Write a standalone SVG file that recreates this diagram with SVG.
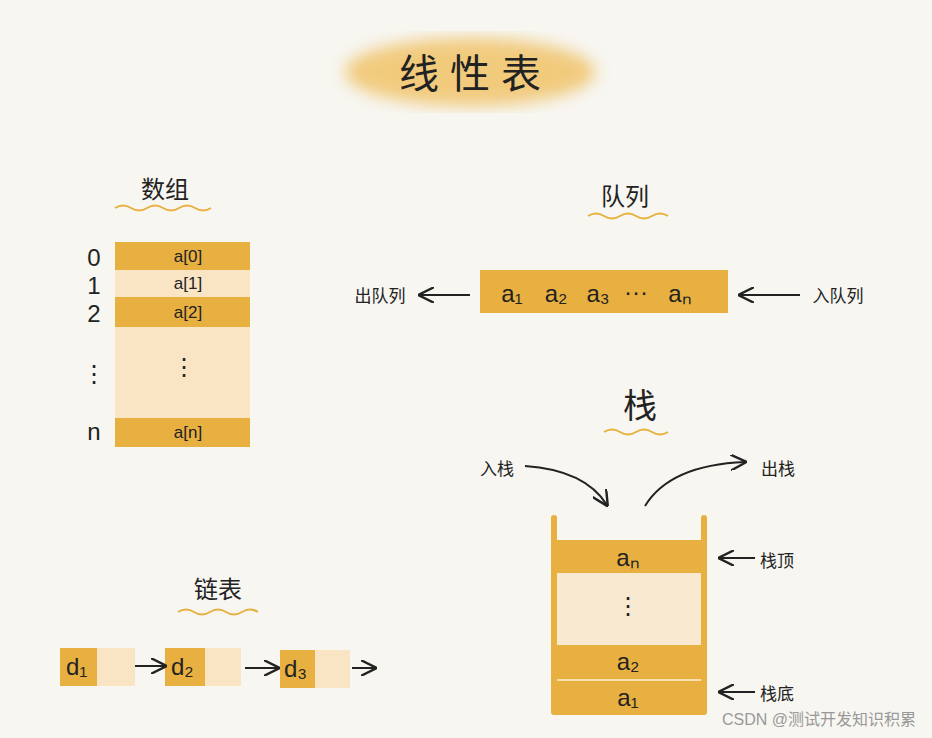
<svg xmlns="http://www.w3.org/2000/svg" width="932" height="738" viewBox="0 0 932 738">
<defs>
<style>
.t{font-family:"Liberation Sans","Noto Sans CJK SC",sans-serif;fill:#222}
.h{font-size:40px}
.s{font-size:24px}
.c{font-size:17px}
.o{fill:#e8b040}
.l{fill:#f9e5c4}
.ln{stroke:#222;stroke-width:2;fill:none}
.w{stroke:#e8b040;stroke-width:2;fill:none}
</style>
<marker id="a" viewBox="0 0 10 10" refX="9" refY="5" markerWidth="8" markerHeight="8" orient="auto"><path d="M0,0L10,5L0,10" fill="none" stroke="#222" stroke-width="1.5"/></marker>
<filter id="b"><feGaussianBlur stdDeviation="8"/></filter>
</defs>
<rect width="932" height="738" fill="#f7f6f1"/>
<g id="title"><ellipse cx="470" cy="72" rx="125" ry="34" fill="#f0c060" opacity="0.8" filter="url(#b)"/><text class="t h" x="470" y="88" text-anchor="middle">线 性 表</text></g>
<g id="array">
<text class="t s" x="165" y="198" text-anchor="middle">数组</text>
<path class="w" d="M115,208 q8,-5 16,0 t16,0 t16,0 t16,0 t16,0 t16,0"/>
<rect class="o" x="115" y="242" width="135" height="28"/>
<rect class="l" x="115" y="270" width="135" height="27"/>
<rect class="o" x="115" y="297" width="135" height="30"/>
<rect class="l" x="115" y="327" width="135" height="91" fill="#f9e9d0"/>
<rect class="o" x="115" y="418" width="135" height="29"/>
<g class="t c" text-anchor="middle"><text x="188" y="262">a[0]</text><text x="188" y="289">a[1]</text><text x="188" y="318">a[2]</text><text x="184" y="375" style="font-size:24px">⋮</text><text x="188" y="438">a[n]</text></g>
<g class="t s" text-anchor="middle"><text x="94" y="266">0</text><text x="94" y="294">1</text><text x="94" y="322">2</text><text x="94" y="382">⋮</text><text x="94" y="440">n</text></g>
</g>
<g id="queue">
<text class="t s" x="625" y="205" text-anchor="middle">队列</text>
<path class="w" d="M588,216 q8,-5 16,0 t16,0 t16,0 t16,0 t16,0"/>
<rect class="o" x="480" y="270" width="248" height="43"/>
<g class="t s" text-anchor="middle"><text x="512" y="302">a₁</text><text x="556" y="302">a₂</text><text x="598" y="302">a₃</text><text x="636" y="300">···</text><text x="680" y="302">aₙ</text></g>
<text class="t c" x="380" y="302" text-anchor="middle">出队列</text>
<text class="t c" x="838" y="302" text-anchor="middle">入队列</text>
</g>
<g id="stack">
<text class="t h" x="640" y="418" text-anchor="middle" style="font-size:34px">栈</text>
<path class="w" d="M604,432 q8,-5 16,0 t16,0 t16,0 t16,0"/>
<rect class="o" x="553" y="540" width="152" height="33"/>
<rect x="553" y="573" width="152" height="72" fill="#f9e9d0"/>
<rect class="o" x="553" y="645" width="152" height="70"/>
<line x1="553" y1="680" x2="705" y2="680" stroke="#f7e0b0" stroke-width="2"/>
<rect class="o" x="551" y="515" width="6" height="200" rx="3"/>
<rect class="o" x="701" y="515" width="6" height="200" rx="3"/>
<g class="t s" text-anchor="middle"><text x="628" y="566">aₙ</text><text x="628" y="614">⋮</text><text x="628" y="670">a₂</text><text x="628" y="706">a₁</text></g>
<text class="t c" x="497" y="475" text-anchor="middle">入栈</text>
<text class="t c" x="778" y="475" text-anchor="middle">出栈</text>
<text class="t c" x="760" y="567">栈顶</text>
<text class="t c" x="760" y="700">栈底</text>
</g>
<g id="list">
<text class="t s" x="218" y="598" text-anchor="middle">链表</text>
<path class="w" d="M178,612 q8,-5 16,0 t16,0 t16,0 t16,0 t16,0"/>
<rect class="o" x="60" y="648" width="37" height="38"/><rect class="l" x="97" y="648" width="38" height="38"/>
<rect class="o" x="165" y="648" width="40" height="38"/><rect class="l" x="205" y="648" width="36" height="38"/>
<rect class="o" x="280" y="650" width="35" height="38"/><rect class="l" x="315" y="650" width="35" height="38"/>
<g class="t s"><text x="66" y="675">d₁</text><text x="171" y="675">d₂</text><text x="284" y="677">d₃</text></g>
</g>
<g id="connectors">
<line class="ln" x1="470" y1="295" x2="420" y2="295" marker-end="url(#a)"/>
<line class="ln" x1="800" y1="295" x2="740" y2="295" marker-end="url(#a)"/>
<path class="ln" d="M525,466 Q585,470 607,505" marker-end="url(#a)"/>
<path class="ln" d="M645,506 Q670,465 745,462" marker-end="url(#a)"/>
<line class="ln" x1="755" y1="558" x2="720" y2="558" marker-end="url(#a)"/>
<line class="ln" x1="755" y1="692" x2="720" y2="692" marker-end="url(#a)"/>
<line class="ln" x1="135" y1="666" x2="165" y2="666" marker-end="url(#a)"/>
<line class="ln" x1="245" y1="668" x2="278" y2="668" marker-end="url(#a)"/>
<line class="ln" x1="352" y1="668" x2="375" y2="668" marker-end="url(#a)"/>
</g>
<text x="916" y="725" text-anchor="end" style="font-family:'Liberation Sans','Noto Sans CJK SC',sans-serif;font-size:16px;fill:#999">CSDN @测试开发知识积累</text>
</svg>
